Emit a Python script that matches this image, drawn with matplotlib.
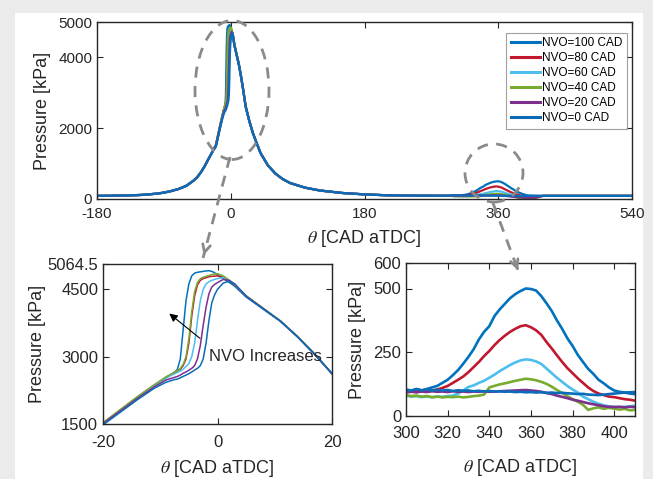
import matplotlib
matplotlib.use("Agg")
import matplotlib.pyplot as plt
from matplotlib.patches import Ellipse, Rectangle, FancyArrowPatch
from matplotlib.lines import Line2D

plt.rcParams['font.family'] = ['Liberation Sans', 'DejaVu Sans']
plt.rcParams['mathtext.fontset'] = 'stix'
plt.rcParams['axes.unicode_minus'] = False

# ---- datos ----
etiquetas = ['NVO=100 CAD', 'NVO=80 CAD', 'NVO=60 CAD', 'NVO=40 CAD', 'NVO=20 CAD', 'NVO=0 CAD']
colores = ['#0072BD', '#C0182F', '#4DBEEE', '#77AC30', '#7E2F8E', '#0A6CB8']

# compresion (comun a todas las curvas)
theta_pre = [-180, -160, -140, -120, -100, -90, -80, -70, -60, -50, -45, -40, -35, -30, -25]
p_pre = [88, 92, 100, 115, 150, 180, 225, 285, 370, 520, 620, 760, 930, 1130, 1320]

# zona de combustion (-20 .. 20)
theta_comb = [-20, -17, -14, -11, -9, -8, -7.5, -7, -6.5, -6, -5.5, -5, -4.5, -4, -3.5, -3,
              -2.5, -2, -1.5, -1, -0.5, 0, 1, 2, 3, 5, 8, 11, 14, 17, 20]
p_comb_100 = [1500, 1790, 2080, 2360, 2530, 2610, 2650, 2720, 2950, 3600, 4250, 4620, 4800, 4860, 4880, 4890,
              4900, 4910, 4915, 4900, 4870, 4820, 4740, 4660, 4570, 4330, 4060, 3790, 3440, 3050, 2620]
p_comb_80 = [1520, 1810, 2100, 2370, 2540, 2610, 2640, 2680, 2720, 2800, 2950, 3300, 3900, 4350, 4600, 4700,
             4740, 4760, 4780, 4790, 4795, 4800, 4770, 4690, 4590, 4340, 4070, 3790, 3440, 3050, 2620]
p_comb_60 = [1510, 1800, 2090, 2360, 2520, 2590, 2620, 2650, 2680, 2720, 2780, 2850, 3000, 3300, 3800, 4250,
             4500, 4620, 4670, 4700, 4720, 4740, 4760, 4700, 4610, 4350, 4070, 3790, 3440, 3050, 2620]
p_comb_40 = [1530, 1820, 2110, 2380, 2550, 2620, 2660, 2690, 2740, 2830, 3000, 3400, 4000, 4450, 4650, 4740,
             4770, 4790, 4810, 4830, 4840, 4850, 4800, 4710, 4610, 4360, 4080, 3800, 3450, 3060, 2630]
p_comb_20 = [1510, 1790, 2070, 2330, 2480, 2520, 2540, 2560, 2590, 2630, 2660, 2700, 2740, 2800, 2950, 3250,
             3700, 4100, 4400, 4550, 4610, 4650, 4720, 4700, 4620, 4350, 4070, 3790, 3440, 3050, 2620]
p_comb_0 = [1480, 1760, 2040, 2300, 2430, 2470, 2490, 2500, 2530, 2560, 2590, 2620, 2660, 2700, 2740, 2800,
            2950, 3300, 3800, 4200, 4380, 4500, 4640, 4680, 4620, 4340, 4060, 3790, 3440, 3050, 2620]

# expansion (comun)
theta_post = [25, 30, 40, 50, 60, 70, 80, 100, 120, 150, 180, 210, 240, 270, 295]
p_post = [2200, 1850, 1300, 950, 720, 560, 450, 320, 240, 170, 130, 105, 95, 92, 92]

# zona NVO (300 .. 410, cada 2.5 CAD)
theta_nvo = [300, 302.5, 305, 307.5, 310, 312.5, 315, 317.5, 320, 322.5, 325, 327.5, 330, 332.5, 335,
             337.5, 340, 342.5, 345, 347.5, 350, 352.5, 355, 357.5, 360, 362.5, 365, 367.5, 370, 372.5,
             375, 377.5, 380, 382.5, 385, 387.5, 390, 392.5, 395, 397.5, 400, 402.5, 405, 407.5, 410]
p_nvo_100 = [102, 98, 104, 100, 106, 112, 118, 130, 142, 160, 180, 205, 232, 262, 300,
             330, 352, 392, 418, 440, 462, 478, 490, 500, 498, 492, 470, 442, 412, 375,
             342, 305, 275, 240, 212, 185, 165, 142, 128, 112, 100, 95, 92, 88, 86]
p_nvo_80 = [95, 97, 94, 98, 96, 100, 104, 110, 118, 130, 142, 155, 172, 192, 212,
            235, 255, 278, 298, 315, 330, 342, 352, 356, 348, 336, 318, 290, 265, 238,
            212, 188, 168, 148, 130, 112, 98, 88, 82, 76, 74, 70, 66, 64, 60]
p_nvo_60 = [80, 76, 78, 74, 77, 73, 76, 75, 78, 80, 88, 100, 114, 120, 130,
            138, 150, 162, 176, 188, 200, 210, 218, 222, 220, 214, 204, 186, 168, 150,
            134, 118, 104, 92, 76, 66, 56, 48, 42, 38, 36, 35, 36, 38, 40]
p_nvo_40 = [82, 78, 80, 76, 78, 74, 76, 73, 75, 74, 76, 73, 75, 78, 80,
            84, 112, 118, 124, 128, 133, 138, 142, 146, 144, 140, 134, 126, 115, 102,
            90, 78, 66, 56, 44, 24, 30, 34, 28, 32, 29, 25, 28, 22, 24]
p_nvo_20 = [92, 95, 93, 96, 94, 97, 95, 96, 94, 97, 95, 96, 94, 96, 95,
            97, 95, 96, 97, 98, 99, 100, 101, 102, 100, 98, 95, 90, 86, 80,
            75, 70, 64, 60, 55, 50, 46, 42, 38, 36, 35, 36, 34, 36, 35]
p_nvo_0 = [104, 100, 106, 101, 104, 99, 103, 100, 102, 98, 101, 99, 100, 97, 99,
           96, 98, 96, 97, 95, 96, 94, 95, 93, 94, 92, 93, 91, 92, 90,
           91, 89, 88, 86, 87, 84, 83, 82, 84, 86, 88, 90, 92, 93, 94]

# fin de ciclo (comun)
theta_end = [420, 450, 480, 510, 540]
p_end = [88, 88, 88, 88, 88]

p_comb = [p_comb_100, p_comb_80, p_comb_60, p_comb_40, p_comb_20, p_comb_0]
p_nvo = [p_nvo_100, p_nvo_80, p_nvo_60, p_nvo_40, p_nvo_20, p_nvo_0]

theta_total = theta_pre + theta_comb + theta_post + theta_nvo + theta_end
curvas = [p_pre + pc + p_post + pn + p_end for pc, pn in zip(p_comb, p_nvo)]

# ---- figura ----
fig = plt.figure(figsize=(6.53, 4.79), dpi=100, facecolor='#ebebeb')
W, H = 653.0, 479.0

def px_ax(x0, y0, x1, y1):
    return [x0 / W, 1 - y1 / H, (x1 - x0) / W, (y1 - y0) / H]

fig.add_artist(Rectangle((15 / W, 0), (643 - 15) / W, (H - 13) / H, transform=fig.transFigure,
                         facecolor='white', edgecolor='none', zorder=-10))

ax1 = fig.add_axes(px_ax(97, 22, 632, 199))
ax2 = fig.add_axes(px_ax(103, 264, 332, 424))
ax3 = fig.add_axes(px_ax(406, 263, 635, 416))

for ax in (ax1, ax2, ax3):
    ax.set_facecolor('white')
    ax.tick_params(direction='in', top=True, right=True, length=4, width=0.8, colors='#262626')
    for s in ax.spines.values():
        s.set_linewidth(1.0)
        s.set_color('#262626')

for p, c, lab in zip(curvas, colores, etiquetas):
    ax1.plot(theta_total, p, color=c, lw=1.6, label=lab)
    ax2.plot(theta_total, p, color=c, lw=1.1)
    ax3.plot(theta_total, p, color=c, lw=1.9)

# grafico superior
ax1.set_xlim(-180, 540)
ax1.set_ylim(0, 5000)
ax1.set_xticks([-180, 0, 180, 360, 540])
ax1.set_yticks([0, 2000, 4000, 5000])
ax1.tick_params(labelsize=11)
ax1.tick_params(axis='x', pad=6)
ax1.set_xlabel(r'$\theta$ [CAD aTDC]', fontsize=13, labelpad=5, color='#262626')
ax1.set_ylabel('Pressure [kPa]', fontsize=13, labelpad=5, color='#262626')
leg = ax1.legend(loc='upper right', bbox_to_anchor=(0.99, 0.94), fontsize=8.5, frameon=True,
                 fancybox=False, handlelength=2.5, labelspacing=0.25, borderpad=0.4,
                 handletextpad=0.1, borderaxespad=0)
leg.get_frame().set_edgecolor('#888888')
leg.get_frame().set_linewidth(0.8)
for l in leg.get_lines():
    l.set_linewidth(2.2)

# zoom combustion
ax2.set_xlim(-20, 20)
ax2.set_ylim(1500, 5064.5)
ax2.set_xticks([-20, 0, 20])
ax2.set_yticks([1500, 3000, 4500, 5064.5])
ax2.set_yticklabels(['1500', '3000', '4500', '5064.5'])
ax2.tick_params(labelsize=12)
ax2.tick_params(axis='x', pad=8)
ax2.set_xlabel(r'$\theta$ [CAD aTDC]', fontsize=13, labelpad=6, color='#262626')
ax2.set_ylabel('Pressure [kPa]', fontsize=13, labelpad=1, color='#262626')
ax2.annotate('', xy=(-8.8, 4000), xytext=(-2.7, 3370),
             arrowprops=dict(arrowstyle='-|>', color='black', lw=0.8, mutation_scale=12))
ax2.text(-1.5, 3000, 'NVO Increases', fontsize=12, va='center', ha='left', color='#262626')

# zoom NVO
ax3.set_xlim(300, 410)
ax3.set_ylim(0, 600)
ax3.set_xticks([300, 320, 340, 360, 380, 400])
ax3.set_yticks([0, 250, 500, 600])
ax3.tick_params(labelsize=12)
ax3.tick_params(axis='x', pad=7)
ax3.set_xlabel(r'$\theta$ [CAD aTDC]', fontsize=13, labelpad=12, color='#262626')
ax3.set_ylabel('Pressure [kPa]', fontsize=13, labelpad=5, color='#262626')

# elipses y flechas discontinuas
gris = '#8a8a8a'
fig.add_artist(Ellipse((232 / W, 1 - 90 / H), 74 / W, 139 / H, transform=fig.transFigure,
                       fill=False, edgecolor=gris, lw=2, ls=(0, (4, 3))))
fig.add_artist(Ellipse((494 / W, 1 - 173 / H), 58 / W, 58 / H, transform=fig.transFigure,
                       fill=False, edgecolor=gris, lw=2, ls=(0, (4, 3))))

for (xa, ya), (xb, yb) in [((230, 157), (203, 258)), ((493, 203), (519, 273))]:
    fig.add_artist(Line2D([xa / W, xb / W], [1 - ya / H, 1 - yb / H], transform=fig.transFigure,
                          color=gris, lw=2, ls=(0, (4, 3))))
    fx = xa + (xb - xa) * 0.9
    fy = ya + (yb - ya) * 0.9
    fig.add_artist(FancyArrowPatch((fx / W, 1 - fy / H), (xb / W, 1 - yb / H), transform=fig.transFigure,
                                   arrowstyle='->', mutation_scale=14, color=gris, lw=2))

plt.savefig('out.png', dpi=100, facecolor=fig.get_facecolor())
